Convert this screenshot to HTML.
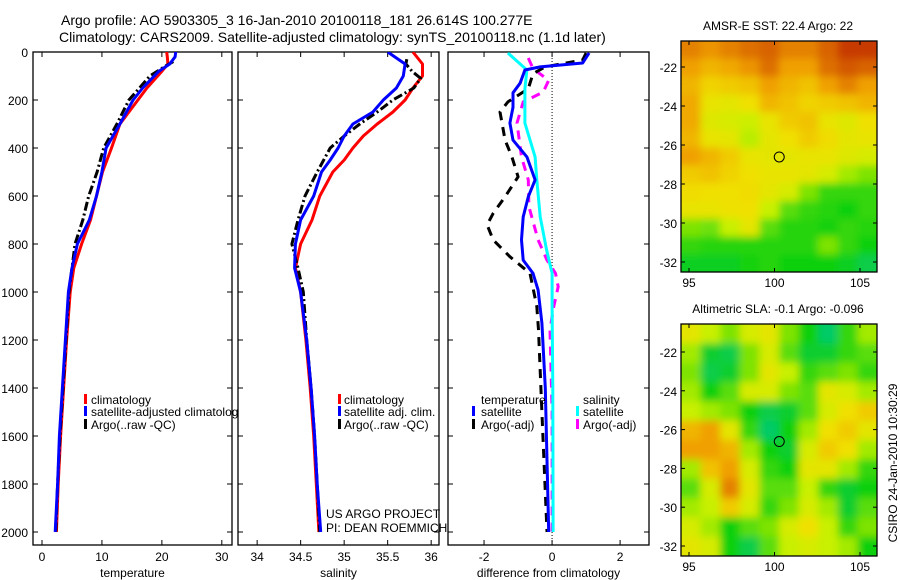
<!DOCTYPE html>
<html><head><meta charset="utf-8"><style>
body{margin:0;background:#fff}
svg{display:block;font-family:"Liberation Sans",sans-serif}
</style></head><body>
<svg id="fig" width="900" height="580" viewBox="0 0 900 580" xmlns="http://www.w3.org/2000/svg">
<defs>
<filter id="bl" x="0" y="0" width="1" height="1"><feGaussianBlur stdDeviation="4" edgeMode="duplicate"/></filter>
<clipPath id="c1"><rect x="681" y="41" width="196" height="231"/></clipPath>
<clipPath id="c2"><rect x="681" y="324" width="196" height="232"/></clipPath>
<clipPath id="p1"><rect x="33" y="52" width="199" height="493"/></clipPath>
<clipPath id="p2"><rect x="238" y="52" width="201" height="493"/></clipPath>
<clipPath id="p3"><rect x="448" y="52" width="201" height="493"/></clipPath>
</defs>
<text x="61" y="25" font-size="14">Argo profile: AO 5903305_3 16-Jan-2010 20100118_181 26.614S 100.277E</text>
<text x="59" y="42" font-size="14">Climatology: CARS2009. Satellite-adjusted climatology: synTS_20100118.nc (1.1d later)</text>
<g id="axes"></g>
<g id="series"></g>
<g id="legends" font-size="12">
 <rect x="84" y="394" width="3" height="10" fill="#f00"/>
 <text x="91" y="404">climatology</text>
 <rect x="84" y="406" width="3" height="10" fill="#00f"/>
 <text x="91" y="416">satellite-adjusted climatolog</text>
 <rect x="84" y="419" width="3" height="10" fill="#000"/>
 <text x="91" y="429">Argo(..raw -QC)</text>
 <rect x="338" y="394" width="3" height="10" fill="#f00"/>
 <text x="344" y="404">climatology</text>
 <rect x="338" y="406" width="3" height="10" fill="#00f"/>
 <text x="344" y="416">satellite adj. clim.</text>
 <rect x="338" y="419" width="3" height="10" fill="#000"/>
 <text x="344" y="429">Argo(..raw -QC)</text>
 <text x="481" y="404">temperature</text>
 <text x="583" y="404">salinity</text>
 <rect x="472" y="406" width="3" height="10" fill="#00f"/>
 <text x="481" y="416">satellite</text>
 <rect x="576" y="406" width="3" height="10" fill="#0ff"/>
 <text x="583" y="416">satellite</text>
 <rect x="472" y="419" width="3" height="10" fill="#000"/>
 <text x="481" y="429">Argo(-adj)</text>
 <rect x="576" y="419" width="3" height="10" fill="#f0f"/>
 <text x="583" y="429">Argo(-adj)</text>
 <text x="326" y="518">US ARGO PROJECT</text>
 <text x="326" y="532">PI: DEAN ROEMMICH</text>
</g>
<g id="maps"></g>
<text font-size="12" transform="translate(897,463) rotate(-90)" text-anchor="middle">CSIRO 24-Jan-2010 10:30:29</text>
</svg>
<script>
// ---- data ----
const depthTicks=[0,200,400,600,800,1000,1200,1400,1600,1800,2000];
const tTicks=[0,10,20,30];
const sTicks=[34,34.5,35,35.5,36];
const dTicks=[-2,0,2];
const tDepth=[0,20,50,80,150,200,300,400,500,600,700,800,900,1000,1200,1400,1600,1800,2000];
const tClim=[20.8,20.9,21,20,17.5,16,13,11.6,10.1,9.1,8.1,6.6,5.3,4.7,4.1,3.6,3.1,2.7,2.4];
const tSat=[22.3,22.2,21.3,19.5,16.8,15.2,13,10.7,10,9.1,7.9,5.9,5,4.4,3.9,3.4,2.9,2.6,2.2];
const tArgoDepth=[40,60,100,200,300,400,500,600,700,800,900,1000,1200,1400,1600,1800,2000];
const tArgo=[21.9,20.5,18,14.5,12.5,10.3,9.2,7.8,6.8,5.5,5,4.5,4,3.5,3,2.6,2.3];
const sDepth=[0,50,100,150,200,250,300,350,400,450,500,600,700,800,900,1000,1200,1400,1600,1800,2000];
const sClim=[35.79,35.9,35.9,35.79,35.7,35.56,35.38,35.22,35.1,35,34.87,34.72,34.63,34.5,34.44,34.5,34.56,34.61,34.65,34.68,34.71];
const sSat=[35.5,35.7,35.68,35.6,35.45,35.33,35.1,35.0,34.93,34.84,34.74,34.65,34.5,34.44,34.43,34.5,34.57,34.62,34.66,34.69,34.73];
const sArgoDepth=[30,50,80,110,150,200,250,300,350,400,500,600,700,800,900,1000,1200,1400,1600,1800,2000];
const sArgo=[35.72,35.71,35.78,35.88,35.8,35.56,35.38,35.18,35,34.84,34.69,34.55,34.47,34.4,34.47,34.53,34.57,34.62,34.66,34.69,34.72];
const dTSatDepth=[4,46,62,75,130,170,230,296,367,437,533,603,687,783,867,922,992,1129,1400,1700,2000];
const dTSat=[1.09,0.9,-0.35,-0.8,-0.94,-1.15,-1.15,-1.24,-1.15,-0.74,-0.5,-0.7,-0.85,-0.9,-0.85,-0.56,-0.41,-0.3,-0.2,-0.15,-0.1];
const dSSatDepth=[4,75,153,296,437,533,687,825,922,1060,1400,2000];
const dSSat=[-1.3,-0.74,-0.8,-0.8,-0.5,-0.45,-0.35,-0.16,0,0,0.02,0.03];
const dTArgoDepth=[4,33,62,90,153,208,250,367,437,520,603,672,720,783,853,922,1060,1157,1500,2000];
const dTArgo=[1.0,0.9,-0.2,-0.56,-0.7,-1.3,-1.53,-1.38,-1.18,-1.0,-1.38,-1.73,-1.91,-1.73,-1.24,-0.65,-0.45,-0.4,-0.3,-0.15];
const dSArgoDepth=[25,69,118,167,208,296,437,533,644,783,867,922,978,1060,1157,1500,2000];
const dSArgo=[-0.7,-0.56,-0.1,-0.26,-0.85,-1.03,-0.9,-0.7,-0.68,-0.41,-0.15,0.1,0.18,0.05,-0.06,0,0];
const sstGrid=[
[.85,.82,.85,.88,.9,.85,.85,.9,.97,.97],
[.8,.75,.78,.82,.88,.8,.8,.88,.92,.9],
[.75,.68,.7,.72,.8,.75,.72,.8,.85,.8],
[.78,.62,.6,.65,.75,.72,.68,.7,.72,.75],
[.78,.58,.55,.52,.62,.7,.72,.62,.58,.65],
[.75,.62,.6,.48,.6,.65,.7,.66,.6,.62],
[.8,.75,.7,.62,.6,.6,.62,.62,.58,.55],
[.7,.72,.68,.65,.62,.62,.6,.55,.45,.4],
[.66,.65,.65,.66,.6,.55,.4,.3,.3,.3],
[.62,.62,.64,.65,.5,.35,.3,.28,.25,.3],
[.4,.38,.5,.6,.35,.28,.28,.26,.3,.28],
[.3,.28,.28,.28,.28,.28,.28,.4,.3,.25],
[.22,.22,.22,.26,.28,.25,.25,.25,.22,.15]];
const slaGrid=[
[.6,.5,.4,.55,.6,.4,.25,.1,.3,.45],
[.45,.2,.15,.4,.55,.35,.2,.2,.3,.35],
[.4,.15,.2,.4,.6,.5,.3,.35,.4,.3],
[.45,.25,.35,.55,.55,.4,.35,.6,.55,.45],
[.5,.45,.4,.25,.15,.2,.35,.55,.65,.7],
[.75,.8,.6,.3,.1,.25,.45,.65,.7,.6],
[.8,.8,.75,.45,.25,.2,.55,.7,.65,.45],
[.45,.72,.8,.55,.3,.25,.6,.6,.45,.3],
[.35,.55,.85,.6,.35,.35,.5,.3,.2,.25],
[.45,.5,.7,.55,.3,.4,.55,.45,.2,.35],
[.55,.45,.25,.35,.4,.55,.65,.5,.3,.4],
[.6,.55,.25,.15,.35,.5,.55,.5,.45,.25]];
const latTicks=[-22,-24,-26,-28,-30,-32];
const lonTicks=[95,100,105];
const argoLon=100.277, argoLat=-26.614;

// ---- helpers ----
const NS="http://www.w3.org/2000/svg";
function mk(tag,attrs,parent){const e=document.createElementNS(NS,tag);for(const k in attrs)e.setAttribute(k,attrs[k]);parent.appendChild(e);return e;}
const yD=d=>52+d*0.24;
const panels=[
 {x0:33,x1:232,v0:-1.5,v1:31.7,ticks:tTicks,label:"temperature",clip:"p1",name:"temperature"},
 {x0:238,x1:439,v0:33.78,v1:36.09,ticks:sTicks,label:"salinity",clip:"p2",name:"salinity"},
 {x0:448,x1:649,v0:-3.06,v1:2.85,ticks:dTicks,label:"difference from climatology",clip:"p3",name:"difference"}];
panels.forEach(p=>{p.sx=v=>p.x0+(v-p.v0)/(p.v1-p.v0)*(p.x1-p.x0);});
const ax=document.getElementById('axes');
panels.forEach((p,i)=>{
 const r=mk('rect',{x:p.x0,y:52,width:p.x1-p.x0,height:493,fill:'none',stroke:'#000','stroke-width':1.3},ax);
 
 
 depthTicks.forEach(d=>{
  mk('line',{x1:p.x0,x2:p.x0+5,y1:yD(d),y2:yD(d),stroke:'#000'},ax);
  mk('line',{x1:p.x1-5,x2:p.x1,y1:yD(d),y2:yD(d),stroke:'#000'},ax);
  if(i===0){const t=mk('text',{x:28,y:yD(d)+5,'font-size':12,'text-anchor':'end'},ax);t.textContent=d;
   
   }
 });
 p.ticks.forEach(v=>{
  const x=p.sx(v);
  mk('line',{x1:x,x2:x,y1:52,y2:57,stroke:'#000'},ax);
  mk('line',{x1:x,x2:x,y1:540,y2:545,stroke:'#000'},ax);
  const t=mk('text',{x:x,y:561,'font-size':12,'text-anchor':'middle'},ax);t.textContent=v;
  
  
 });
 const l=mk('text',{x:(p.x0+p.x1)/2,y:577,'font-size':12,'text-anchor':'middle'},ax);l.textContent=p.label;
 
 
});
mk('line',{x1:panels[2].sx(0),x2:panels[2].sx(0),y1:52,y2:545,stroke:'#000','stroke-dasharray':'1,2'},ax);

const sg=document.getElementById('series');
function line(p,depths,vals,color,dash,name){
 const pts=depths.map((d,i)=>p.sx(vals[i]).toFixed(1)+','+yD(d).toFixed(1)).join(' ');
 const a={points:pts,fill:'none',stroke:color,'stroke-width':3,'stroke-linejoin':'round','clip-path':'url(#'+p.clip+')'};
 if(dash)a['stroke-dasharray']=dash;
 const e=mk('polyline',a,sg);
 
 
}
const P=panels;
line(P[0],tDepth,tClim,'#f00',null,'temperature-climatology-line');
line(P[0],tArgoDepth,tArgo,'#000','9,3,2,3','temperature-argo-line');
line(P[0],tDepth,tSat,'#00f',null,'temperature-satellite-line');
line(P[1],sDepth,sClim,'#f00',null,'salinity-climatology-line');
line(P[1],sArgoDepth,sArgo,'#000','9,3,2,3','salinity-argo-line');
line(P[1],sDepth,sSat,'#00f',null,'salinity-satellite-line');
line(P[2],dSArgoDepth,dSArgo,'#f0f','9,7','diff-salinity-argo-line');
line(P[2],dTArgoDepth,dTArgo,'#000','9,7','diff-temperature-argo-line');
line(P[2],dSSatDepth,dSSat,'#0ff',null,'diff-salinity-satellite-line');
line(P[2],dTSatDepth,dTSat,'#00f',null,'diff-temperature-satellite-line');

// ---- maps ----
const stops=[[0,[0,200,160]],[0.25,[16,208,16]],[0.5,[200,240,0]],[0.65,[240,224,0]],[0.8,[240,160,0]],[1,[192,40,0]]];
function cmap(v){for(let i=1;i<stops.length;i++){if(v<=stops[i][0]){const a=stops[i-1],b=stops[i],t=(v-a[0])/(b[0]-a[0]);return 'rgb('+a[1].map((c,k)=>Math.round(c+(b[1][k]-c)*t)).join(',')+')';}}return 'rgb(192,40,0)';}
const mg=document.getElementById('maps');
function drawMap(grid,y0,h,clip,title,name,lat22y,perDeg){
 const x0=681,w=196;
 const lx=lon=>689+(lon-95)*17.1;
 const ly=lat=>lat22y+(-lat-22)*perDeg;
 const g=mk('g',{'clip-path':'url(#'+clip+')'},mg);
 
 
 const inner=mk('g',{filter:'url(#bl)'},g);
 const rows=grid.length,cols=grid[0].length,cw=w/cols,ch=h/rows;
 mk('rect',{x:x0-10,y:y0-10,width:w+20,height:h+20,fill:cmap(grid[rows-1][0])},inner);
 grid.forEach((row,r)=>row.forEach((v,c)=>{
  const e=mk('rect',{x:x0+c*cw-(c===0?10:0),y:y0+r*ch-(r===0?10:0),width:cw+1+(c===0||c===cols-1?10:0),height:ch+1+(r===0||r===rows-1?10:0),fill:cmap(v)},inner);
  
  
 }));
 mk('rect',{x:x0,y:y0,width:w,height:h,fill:'none',stroke:'#000','stroke-width':1.3},mg);
 latTicks.forEach(l=>{const y=ly(l);
  mk('line',{x1:x0,x2:x0+4,y1:y,y2:y,stroke:'#000'},mg);mk('line',{x1:x0+w-4,x2:x0+w,y1:y,y2:y,stroke:'#000'},mg);
  const t=mk('text',{x:677,y:y+5,'font-size':12,'text-anchor':'end'},mg);t.textContent=l;
  
  });
 lonTicks.forEach(l=>{const x=lx(l);
  mk('line',{x1:x,x2:x,y1:y0,y2:y0+4,stroke:'#000'},mg);mk('line',{x1:x,x2:x,y1:y0+h-4,y2:y0+h,stroke:'#000'},mg);
  const t=mk('text',{x:x,y:y0+h+15,'font-size':12,'text-anchor':'middle'},mg);t.textContent=l;
  
  });
 const c=mk('circle',{cx:lx(argoLon),cy:ly(argoLat),r:5,fill:'none',stroke:'#000','stroke-width':1},mg);
 
 
 const t=mk('text',{x:778,y:y0-11,'font-size':12,'text-anchor':'middle'},mg);t.textContent=title;
 
 
}
drawMap(sstGrid,41,231,'c1','AMSR-E SST: 22.4 Argo: 22','sst',67,19.5);
drawMap(slaGrid,324,232,'c2','Altimetric SLA: -0.1 Argo: -0.096','sla',352,19.4);
</script>
</body></html>
